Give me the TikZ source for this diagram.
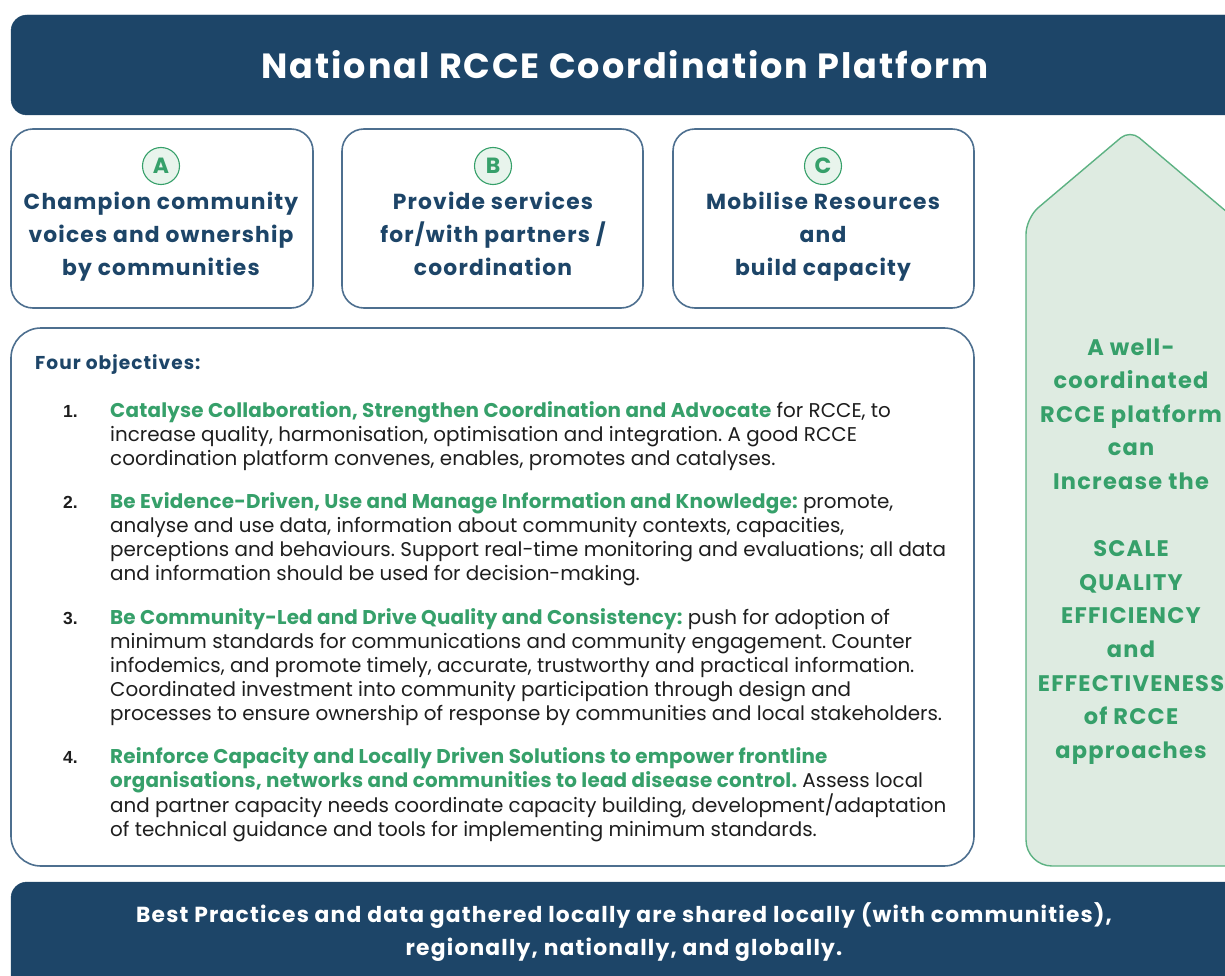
\documentclass[tikz,border=0pt]{standalone}
\usepackage{fontspec}
\setmainfont{Poppins}[BoldFeatures={LetterSpace=5.5}]
\newfontfamily\itemfamily{Poppins}[BoldFeatures={LetterSpace=1.0}]
\newfontfamily\numfont{Liberation Sans}
\definecolor{navy}{HTML}{1D4568}
\definecolor{edgeblue}{HTML}{4D6F8F}
\definecolor{leaf}{HTML}{36A06A}
\definecolor{leafline}{HTML}{5DB283}
\definecolor{mint}{HTML}{DEEBE1}
\definecolor{mintlight}{HTML}{E8F4EC}
\definecolor{ink}{HTML}{1E1E1E}
\tikzset{
  banner/.style={fill=navy, draw=navy, rounded corners=16},
  pillar/.style={draw=edgeblue, line width=1.6pt, fill=white, rounded corners=22},
  badge/.style={circle, draw=leaf, fill=mintlight, line width=1.1pt, minimum size=37pt, inner sep=0pt,
    text=leaf, font=\bfseries\fontsize{22}{22}\selectfont},
  pillartext/.style={anchor=base, inner sep=0pt, text=navy, font=\bfseries\fontsize{21.8}{33}\selectfont},
  num/.style={anchor=base west, inner sep=0pt, text=ink, font=\numfont\bfseries\fontsize{17.5}{24}\selectfont},
  item/.style={anchor=base west, inner sep=0pt, text=ink, font=\itemfamily\fontsize{19.9}{24}\selectfont},
}
\newcommand{\hl}[1]{\textcolor{leaf}{\bfseries #1}}
\frenchspacing
\begin{document}
\begin{tikzpicture}[x=1pt,y=-1pt]
\useasboundingbox (0,0) rectangle (1225,976);
\clip (0,0) rectangle (1225,976);

% title banner
\draw[banner] (11,15) rectangle (1260,115);
\node[text=white, font=\bfseries\fontsize{35}{35}\selectfont, anchor=base] (title) at (625,79) {National RCCE Coordination Platform};

% three pillars
\draw[pillar] (11,129) rectangle (313,308);
\draw[pillar] (342,129) rectangle (643,308);
\draw[pillar] (673,129) rectangle (974,308);
\node[badge] (badgeA) at (161,166) {A};
\node[badge] (badgeB) at (493,166) {B};
\node[badge] (badgeC) at (823,166) {C};
\node[pillartext] (textA) at (161,210) {\parbox[t]{300pt}{\centering Champion community\\ voices and ownership\\ by communities}};
\node[pillartext] (textB) at (493,210) {\parbox[t]{300pt}{\centering Provide services\\ for/with partners /\\ coordination}};
\node[pillartext] (textC) at (823,210) {\parbox[t]{300pt}{\centering Mobilise Resources\\ and\\ build capacity}};

% objectives panel
\draw[pillar, rounded corners=30] (11,328) rectangle (974,866);
\node[anchor=base west, inner sep=0pt, text=navy, font=\bfseries\fontsize{18.6}{20}\selectfont] (head) at (35,369) {Four objectives:};

\node[num] (n1) at (63,417) {1.};
\node[item] (o1) at (110,417) {\parbox[t]{860pt}{\raggedright
\hl{Catalyse Collaboration, Strengthen Coordination and Advocate} for RCCE, to\\
increase quality, harmonisation, optimisation and integration. A good RCCE\\
coordination platform convenes, enables, promotes and catalyses.}};

\node[num] (n2) at (63,508) {2.};
\node[item] (o2) at (110,508) {\parbox[t]{860pt}{\raggedright
\hl{Be Evidence-Driven, Use and Manage Information and Knowledge:} promote,\\
analyse and use data, information about community contexts, capacities,\\
perceptions and behaviours. Support real-time monitoring and evaluations; all data\\
and information should be used for decision-making.}};

\node[num] (n3) at (63,624) {3.};
\node[item] (o3) at (110,624) {\parbox[t]{860pt}{\raggedright
\hl{Be Community-Led and Drive Quality and Consistency:} push for adoption of\\
minimum standards for communications and community engagement. Counter\\
infodemics, and promote timely, accurate, trustworthy and practical information.\\
Coordinated investment into community participation through design and\\
processes to ensure ownership of response by communities and local stakeholders.}};

\node[num] (n4) at (63,763) {4.};
\node[item] (o4) at (110,763) {\parbox[t]{860pt}{\raggedright
\hl{Reinforce Capacity and Locally Driven Solutions to empower frontline}\\
\hl{organisations, networks and communities to lead disease control.} Assess local\\
and partner capacity needs coordinate capacity building, development/adaptation\\
of technical guidance and tools for implementing minimum standards.}};

% outcome arrow
\draw[fill=mint, draw=leafline, line width=1.4pt]
  (1250,866) [rounded corners=26] -- (1026,866) [rounded corners=16] -- (1026,218)
  [rounded corners=12] -- (1130,130) [rounded corners=16] -- (1234,218) -- (1250,230);
\node[anchor=base, inner sep=0pt, text=leaf, font=\bfseries\fontsize{22.5}{33.6}\selectfont] (outcome) at (1131,355)
 {\parbox[t]{300pt}{\centering A well-\\ coordinated\\ RCCE platform\\ can\\ Increase the\\[33.6pt]
  SCALE\\ QUALITY\\ EFFICIENCY\\ and\\ EFFECTIVENESS\\ of RCCE\\ approaches}};

% sharing banner
\draw[banner] (11,882) rectangle (1260,1010);
\node[anchor=base, inner sep=0pt, text=white, font=\bfseries\fontsize{21.8}{33}\selectfont] (share) at (624,922)
 {\parbox[t]{1100pt}{\centering Best Practices and data gathered locally are shared locally (with communities),\\ regionally, nationally, and globally.}};
\end{tikzpicture}
\end{document}
